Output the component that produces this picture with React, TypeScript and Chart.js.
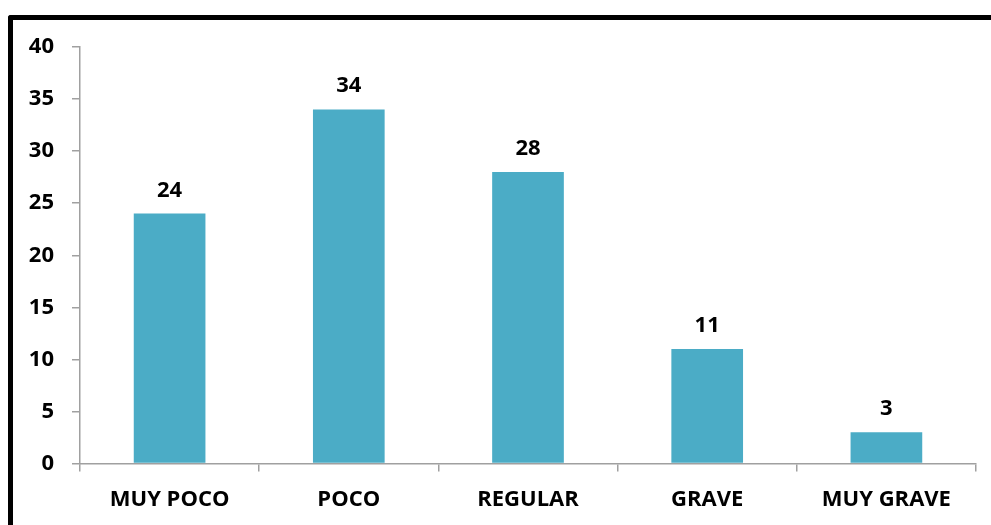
import React, { useEffect, useRef } from "react";
import { Chart, registerables } from "chart.js";

Chart.register(...registerables);

const categories = ["MUY POCO", "POCO", "REGULAR", "GRAVE", "MUY GRAVE"];
const values = [24, 34, 28, 11, 3];
const yTicks = [0, 5, 10, 15, 20, 25, 30, 35, 40];

const BAR_COLOR = "#4BACC6";
const AXIS_COLOR = "#A0A0A0";
const FONT = "'Open Sans', 'DejaVu Sans', sans-serif";
const FONT_SIZE = 22;

// Writes each bar's value above it
const valueLabels = {
  id: "valueLabels",
  afterDatasetsDraw(chart: any) {
    const { ctx } = chart;
    const meta = chart.getDatasetMeta(0);
    ctx.save();
    ctx.font = `bold ${FONT_SIZE}px ${FONT}`;
    ctx.fillStyle = "#000";
    ctx.textAlign = "center";
    ctx.textBaseline = "alphabetic";
    meta.data.forEach((bar: any, i: number) => {
      ctx.fillText(String(values[i]), bar.x, bar.y - 17);
    });
    ctx.restore();
  },
};

export default function App() {
  const canvasRef = useRef<HTMLCanvasElement | null>(null);

  useEffect(() => {
    const canvas = canvasRef.current;
    if (!canvas) return;
    const chart = new Chart(canvas, {
      type: "bar",
      data: {
        labels: categories,
        datasets: [
          {
            data: values,
            backgroundColor: BAR_COLOR,
            borderWidth: 0,
            barPercentage: 0.4,
            categoryPercentage: 1,
          },
        ],
      },
      options: {
        animation: false,
        responsive: false,
        maintainAspectRatio: false,
        layout: { padding: { top: 47, right: 15, bottom: 0, left: 0 } },
        plugins: {
          legend: { display: false },
          tooltip: { enabled: false },
        },
        scales: {
          x: {
            grid: {
              display: true,
              drawOnChartArea: false,
              drawTicks: true,
              tickLength: 8,
              color: AXIS_COLOR,
              lineWidth: 1.5,
              offset: true,
            },
            border: { color: AXIS_COLOR, width: 1.5 },
            ticks: {
              color: "#000",
              font: { family: FONT, size: FONT_SIZE, weight: "bold" },
              padding: 15,
              maxRotation: 0,
              autoSkip: false,
            },
            afterFit(scale: any) {
              scale.height = 61.5;
            },
          },
          y: {
            min: 0,
            max: 40,
            afterBuildTicks(scale: any) {
              scale.ticks = yTicks.map((v) => ({ value: v }));
            },
            grid: {
              display: true,
              drawOnChartArea: false,
              drawTicks: true,
              tickLength: 8,
              color: AXIS_COLOR,
              lineWidth: 1.5,
            },
            border: { color: AXIS_COLOR, width: 1.5 },
            ticks: {
              color: "#000",
              font: { family: FONT, size: FONT_SIZE, weight: "bold" },
              padding: 18,
            },
            afterFit(scale: any) {
              scale.width = 80;
            },
          },
        },
      },
      plugins: [valueLabels],
    });
    return () => chart.destroy();
  }, []);

  return (
    <div style={{ position: "fixed", left: 0, top: 0, width: 991, height: 525, background: "#fff", overflow: "hidden" }}>
      <div
        style={{
          position: "absolute",
          left: 8,
          top: 15,
          width: 1100,
          height: 600,
          borderTop: "5px solid #000",
          borderLeft: "5px solid #000",
          borderTopLeftRadius: 3,
          boxSizing: "border-box",
        }}
      />
      <canvas ref={canvasRef} width={991} height={525} style={{ position: "absolute", left: 0, top: 0 }} />
    </div>
  );
}
